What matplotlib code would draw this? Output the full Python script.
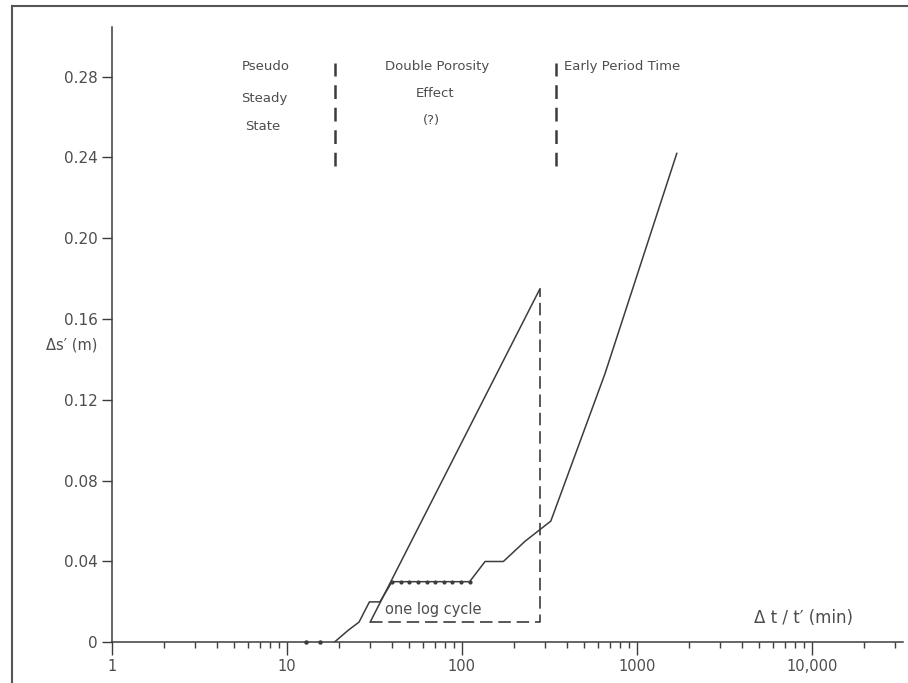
import numpy as np
import matplotlib.pyplot as plt
from matplotlib.lines import Line2D

# Recovery data, delta t / t' (min) against residual drawdown delta s' (m)
early_t = [12.9, 15.4]
early_s = [0.0, 0.0]

obs_t = [18.7, 22.5, 25.9, 29.7, 34.1, 40, 111, 136, 173, 230, 323, 659, 1694]
obs_s = [0.0, 0.006, 0.010, 0.020, 0.020, 0.030, 0.030, 0.040, 0.040, 0.050, 0.060, 0.133, 0.242]

# closely spaced points on the 0.03 plateau
plateau_t = [40, 45, 50, 56, 63, 70, 79, 88, 99, 111]
plateau_s = [0.03] * len(plateau_t)

# straight line fitted over one log cycle
fit_t = [30, 280]
fit_s = [0.010, 0.175]

# dashed bracket marking the log cycle
bracket_t = [30, 280, 280]
bracket_s = [0.010, 0.010, 0.175]

# vertical dashed dividers between flow periods
divider_t = [19, 348]
divider_s = [0.236, 0.287]

x_ticks = [1, 10, 100, 1000, 10000]
x_labels = ["1", "10", "100", "1000", "10,000"]
y_ticks = [0, 0.04, 0.08, 0.12, 0.16, 0.20, 0.24, 0.28]
y_labels = ["0", "0.04", "0.08", "0.12", "0.16", "0.20", "0.24", "0.28"]

ink = "#3c3c3c"
txt = "#4d4d4d"

fig = plt.figure(figsize=(9.08, 6.83), dpi=100)
ax = fig.add_axes([0.123, 0.0596, 0.8715, 0.9009])

ax.plot(early_t, early_s, "o", ms=2.2, color=ink, clip_on=False)
ax.plot(obs_t, obs_s, "-", lw=1.1, color=ink)
ax.plot(plateau_t, plateau_s, "o", ms=2.0, color=ink)
ax.plot(fit_t, fit_s, "-", lw=1.1, color=ink)
ax.plot(bracket_t, bracket_s, ls=(0, (7.5, 3.5)), lw=1.2, color=ink)
for t in divider_t:
    ax.plot([t, t], divider_s, ls=(0, (5.5, 3.5)), lw=1.8, color=ink)

ax.set_xscale("log")
ax.set_xlim(1, 33240)
ax.set_ylim(0, 0.3046)

ax.set_xticks(x_ticks)
ax.set_xticklabels(x_labels)
ax.set_xticks([m * 10 ** d for d in range(5) for m in range(2, 10) if m * 10 ** d < 33240], minor=True)
ax.set_yticks(y_ticks)
ax.set_yticklabels(y_labels)

ax.tick_params(axis="x", which="major", length=9, width=1, colors=ink, labelcolor=txt, labelsize=10.5, pad=3)
ax.tick_params(axis="x", which="minor", length=4.5, width=1, colors=ink)
ax.tick_params(axis="y", which="major", length=7, width=1, colors=ink, labelcolor=txt, labelsize=11, pad=3)

for side in ["top", "right"]:
    ax.spines[side].set_visible(False)
for side in ["left", "bottom"]:
    ax.spines[side].set_color(ink)
    ax.spines[side].set_linewidth(1.1)

# axis titles
ax.text(-0.018, 0.147, "\u0394s\u2032 (m)", transform=ax.get_yaxis_transform(),
        ha="right", va="center", fontsize=10.5, color=txt)
ax.text(9000, 0.012, "\u0394 t / t\u2032 (min)", ha="center", va="center", fontsize=12, color=txt)

# period labels
ax.text(7.6, 0.285, "Pseudo", ha="center", va="center", fontsize=9.5, color=txt)
ax.text(7.45, 0.269, "Steady", ha="center", va="center", fontsize=9.5, color=txt)
ax.text(7.3, 0.2552, "State", ha="center", va="center", fontsize=9.5, color=txt)
ax.text(72, 0.285, "Double Porosity", ha="center", va="center", fontsize=9.5, color=txt)
ax.text(70, 0.2716, "Effect", ha="center", va="center", fontsize=9.5, color=txt)
ax.text(67, 0.2584, "(?)", ha="center", va="center", fontsize=9.5, color=txt)
ax.text(384, 0.285, "Early Period Time", ha="left", va="center", fontsize=9.5, color=txt)
ax.text(36.5, 0.016, "one log cycle", ha="left", va="center", fontsize=10.5, color=txt)

# border of the scanned page
fig.add_artist(Line2D([12 / 908, 1], [1 - 6 / 683, 1 - 6 / 683], transform=fig.transFigure, color="#555555", lw=1.5))
fig.add_artist(Line2D([12 / 908, 12 / 908], [0, 1 - 6 / 683], transform=fig.transFigure, color="#555555", lw=1.5))

fig.savefig("out.png", dpi=100)
